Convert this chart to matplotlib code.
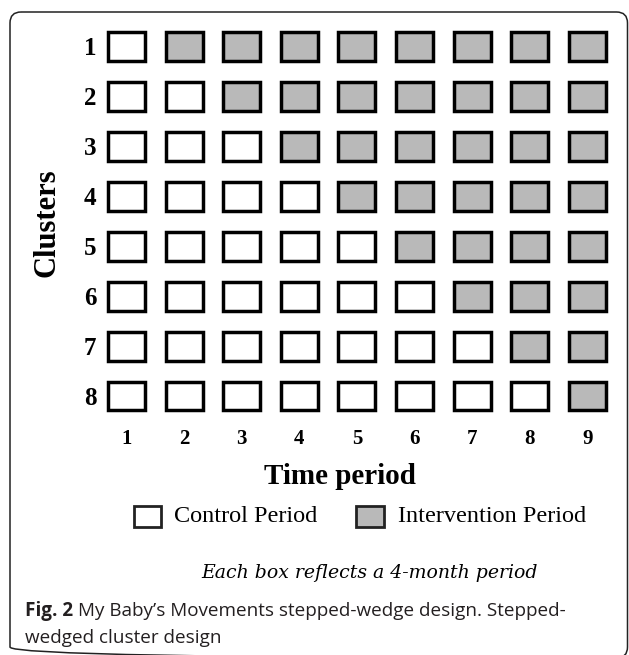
import matplotlib
matplotlib.use("Agg")
import matplotlib.pyplot as plt
from matplotlib.patches import Rectangle, FancyBboxPatch

# data: 8 clusters, 9 time periods, each cluster switches to intervention one step later
clusters = [1, 2, 3, 4, 5, 6, 7, 8]
periods = [1, 2, 3, 4, 5, 6, 7, 8, 9]
intervention_start = [2, 3, 4, 5, 6, 7, 8, 9]
legend_labels = ["Control Period", "Intervention Period"]

W, H = 629, 655
CONTROL = "white"
INTERV = "#b9b9b9"
SERIF = "Liberation Serif"

fig = plt.figure(figsize=(W / 100, H / 100), dpi=100)

# overlay axes in pixel units for the frame, labels, legend and caption
over = fig.add_axes([0, 0, 1, 1])
over.set_xlim(0, W)
over.set_ylim(H, 0)
over.axis("off")

frame = FancyBboxPatch((10, 12), 617.5, 646, boxstyle="round,pad=0,rounding_size=11",
                       fill=False, edgecolor="#222222", linewidth=1.1)
over.add_patch(frame)

# grid of boxes
ax = fig.add_axes([97.7 / W, (H - 421) / H, 518.4 / W, 400 / H])
ax.set_xlim(0.5, 9.5)
ax.set_ylim(8.5, 0.5)
bw, bh = 0.64, 0.58
for c, start in zip(clusters, intervention_start):
    for p in periods:
        color = INTERV if p >= start else CONTROL
        ax.add_patch(Rectangle((p - bw / 2, c - bh / 2), bw, bh, facecolor=color,
                               edgecolor="black", linewidth=2.5))

ax.set_xticks(periods)
ax.set_xticklabels([str(p) for p in periods], fontfamily=SERIF, fontweight="bold", fontsize=15)
ax.set_yticks(clusters)
ax.set_yticklabels([str(c) for c in clusters], fontfamily=SERIF, fontweight="bold", fontsize=18)
ax.tick_params(axis="x", length=0, pad=6)
ax.tick_params(axis="y", length=0, pad=1)
for s in ax.spines.values():
    s.set_visible(False)

# axis titles
over.text(47, 223, "Clusters", rotation=90, ha="center", va="center",
          fontfamily=SERIF, fontweight="bold", fontsize=22)
over.text(340, 477, "Time period", ha="center", va="center",
          fontfamily=SERIF, fontweight="bold", fontsize=21)

# legend
over.add_patch(Rectangle((134, 506), 27, 21, facecolor=CONTROL, edgecolor="#222222", linewidth=2))
over.text(174, 517, legend_labels[0], ha="left", va="center", fontfamily=SERIF, fontsize=17.5)
over.add_patch(Rectangle((356, 506), 28, 21, facecolor=INTERV, edgecolor="#222222", linewidth=2))
over.text(398, 517, legend_labels[1], ha="left", va="center", fontfamily=SERIF, fontsize=17.5)

over.text(370, 573, "Each box reflects a 4-month period", ha="center", va="center",
          fontfamily="DejaVu Serif", fontstyle="italic", fontsize=13.6)

# caption
cap = over.text(25, 611, "Fig. 2", ha="left", va="center", fontfamily="Open Sans",
                fontweight="bold", fontsize=13.6, color="#231f20")
fig.canvas.draw()
bb = cap.get_window_extent(fig.canvas.get_renderer())
x_end = over.transData.inverted().transform((bb.x1, bb.y0))[0]
over.text(x_end + 5, 611, "My Baby\u2019s Movements stepped-wedge design. Stepped-", ha="left",
          va="center", fontfamily="Open Sans", fontsize=13.6, color="#231f20")
over.text(25, 638, "wedged cluster design", ha="left", va="center", fontfamily="Open Sans",
          fontsize=13.6, color="#231f20")

fig.savefig("out.png", dpi=100)
